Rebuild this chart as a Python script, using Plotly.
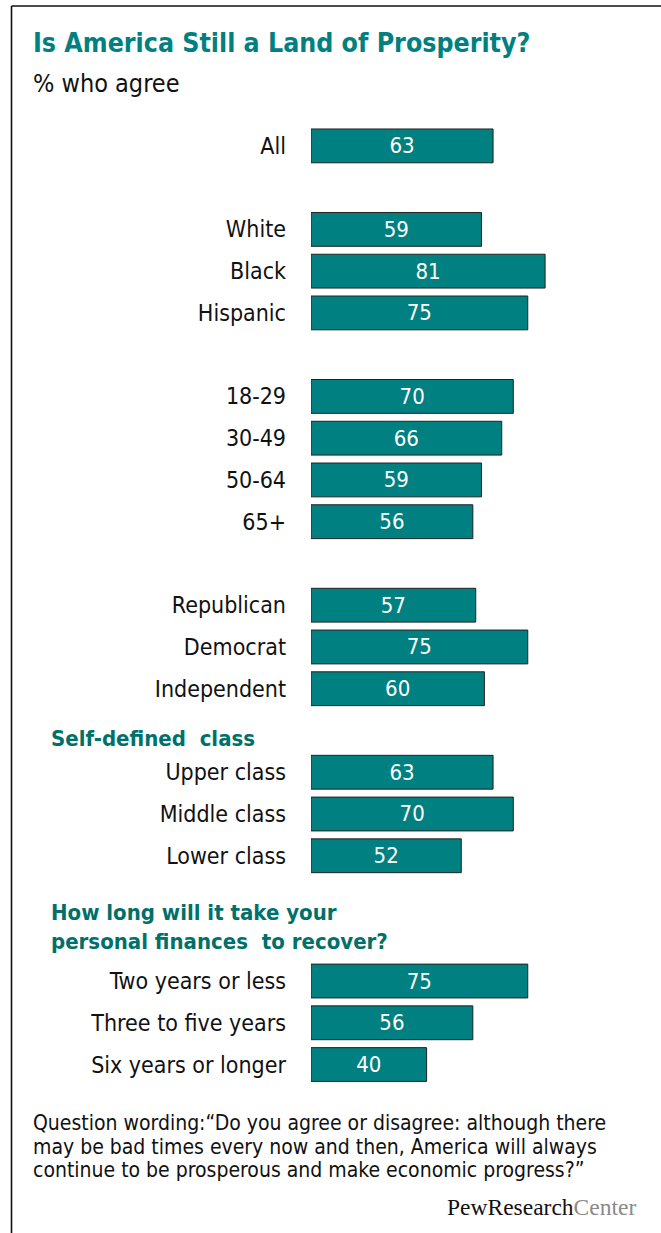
import plotly.graph_objects as go

# Survey results: share who agree America will always be prosperous
labels = ["All",
          "White", "Black", "Hispanic",
          "18-29", "30-49", "50-64", "65+",
          "Republican", "Democrat", "Independent",
          "Upper class", "Middle class", "Lower class",
          "Two years or less", "Three to five years", "Six years or longer"]
values = [63,
          59, 81, 75,
          70, 66, 59, 56,
          57, 75, 60,
          63, 70, 52,
          75, 56, 40]
# number of rows in each block (blank rows separate the blocks)
group_sizes = [1, 3, 4, 3, 3, 3]
group_gaps = [1, 1, 1, 1, 2]

note_lines = [
    "Question wording:\u201cDo you agree or disagree: although there",
    "may be bad times every now and then, America will always",
    "continue to be prosperous and make economic progress?\u201d",
]

TEAL = "#008080"
HEAD_TEAL = "#00706b"
FONT = "DejaVu Sans Condensed, DejaVu Sans, sans-serif"

W, H = 661, 1233
M_L, M_R, M_T, M_B = 311, 61, 125, 148

# row positions for each bar
rows = []
r = 0
for gi, n in enumerate(group_sizes):
    for k in range(n):
        rows.append(r)
        r += 1
    if gi < len(group_gaps):
        r += group_gaps[gi]
last_row = rows[-1]

fig = go.Figure(go.Bar(
    x=values, y=rows, orientation="h", width=0.81,
    marker=dict(color=TEAL, line=dict(color="#222", width=1)),
    text=values, textposition="inside", insidetextanchor="middle",
    textfont=dict(color="white", size=22, family=FONT),
    constraintext="none", hoverinfo="skip",
))

plot_w = W - M_L - M_R
plot_h = H - M_T - M_B


def px(x):
    return (x - M_L) / plot_w


def py(y):
    return (H - M_B - y) / plot_h


anns = [
    dict(text="<b>Is America Still a Land of Prosperity?</b>", x=px(31), y=py(43),
         font=dict(size=26.5, color=TEAL)),
    dict(text="% who agree", x=px(31), y=py(83), font=dict(size=25, color="#111")),
    dict(text="<b>Self-defined  class</b>", x=px(49), y=py(738),
         font=dict(size=22, color=HEAD_TEAL)),
    dict(text="<b>How long will it take your<br>personal finances  to recover?</b>",
         x=px(49), y=py(927), font=dict(size=22, color=HEAD_TEAL)),
]
for i, line in enumerate(note_lines):
    anns.append(dict(text=line, x=px(31), y=py(1123 + 23.5 * i),
                     font=dict(size=21, color="#111")))
for a in anns:
    a.update(xref="paper", yref="paper", xanchor="left", yanchor="middle",
             showarrow=False, align="left")
    a["font"].setdefault("family", FONT)

anns.append(dict(
    text="PewResearch<span style='color:#8a8a8a'>Center</span>",
    xref="paper", yref="paper", x=px(638), y=py(1207), xanchor="right", yanchor="middle",
    showarrow=False, font=dict(family="Liberation Serif, Times New Roman, serif",
                               size=23.5, color="#111")))

shapes = [
    dict(type="line", xref="paper", yref="paper", x0=px(11.5), x1=px(661),
         y0=py(6), y1=py(6), line=dict(color="#111", width=1.6)),
    dict(type="line", xref="paper", yref="paper", x0=px(11.5), x1=px(11.5),
         y0=py(6), y1=py(1233), line=dict(color="#111", width=1.6)),
]

fig.update_layout(
    width=W, height=H, margin=dict(l=M_L, r=M_R, t=M_T, b=M_B),
    paper_bgcolor="white", plot_bgcolor="white", showlegend=False,
    font=dict(family=FONT, color="#111"),
    xaxis=dict(range=[0, 100], visible=False, fixedrange=True),
    yaxis=dict(range=[last_row + 0.49, -0.5], tickvals=rows, ticktext=labels,
               showgrid=False, zeroline=False, showline=False, ticks="",
               ticklabelstandoff=24, tickfont=dict(size=23, color="#111", family=FONT),
               fixedrange=True),
    annotations=anns, shapes=shapes,
)

fig.write_html("out.html")
